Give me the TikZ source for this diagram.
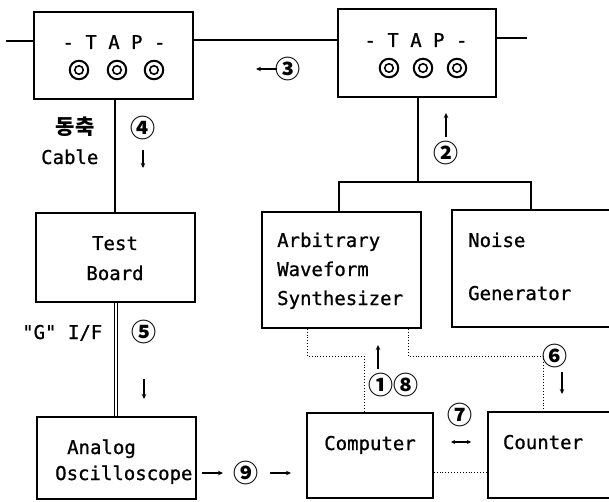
\documentclass[tikz,border=0pt]{standalone}
\usepackage{fontspec}
\newfontfamily\monof{DejaVu Sans Mono}[FakeBold=0.9]
\newfontfamily\krfont{Noto Sans CJK KR}
\usetikzlibrary{fit,arrows.meta}
\begin{document}
\begin{tikzpicture}[x=1pt,y=-1pt,
 box/.style={draw, line width=1.5pt, inner sep=0pt},
 wire/.style={line width=2pt},
 dots/.style={line width=0.9pt, dotted},
 txt/.style={font=\monof\fontsize{19}{22}\selectfont, inner sep=0pt, anchor=base},
 txtl/.style={txt, anchor=base west},
 num/.style={font=\krfont\bfseries\fontsize{25}{26}\selectfont, inner sep=0pt},
 sarrow/.style={line width=1.3pt, -{Stealth[length=5pt,width=4.5pt]}},
 jack/.style={circle, draw, line width=2pt, minimum size=18.5pt, inner sep=0pt},
 jackin/.style={circle, draw, line width=1.6pt, minimum size=8.5pt, inner sep=0pt}
]
\useasboundingbox (0,0) rectangle (609,502);
\clip (0,0) rectangle (609,502);

% boxes
\node[box, fit={(34,12)(193,99)}] (tap1) {};
\node[box, fit={(338,9)(496,97)}] (tap2) {};
\node[box, fit={(36,213)(195,302)}] (test) {};
\node[box, fit={(262,212)(421,328)}] (aws) {};
\node[box, fit={(452,210)(620,327)}] (noise) {};
\node[box, fit={(37,417)(196,499)}] (osc) {};
\node[box, fit={(307,413)(433,498)}] (comp) {};
\node[box, fit={(488,412)(620,498)}] (count) {};

% TAP texts and jacks
\node[txt] (tapa) at (114,49) {- T A P -};
\node[txt] (tapb) at (416,47) {- T A P -};
\foreach \x/\n in {79/a1,117/a2,154/a3}{
  \node[jack] (j\n) at (\x,70) {};
  \node[jackin] (k\n) at (j\n) {};
}
\foreach \x/\n in {389/b1,423/b2,457/b3}{
  \node[jack] (j\n) at (\x,68) {};
  \node[jackin] (k\n) at (j\n) {};
}

% box texts
\node[txt] (l1) at (115,250) {Test};
\node[txt] (l2) at (115,280) {Board};
\node[txtl] (l3) at (277,247) {Arbitrary};
\node[txtl] (l4) at (277,276) {Waveform};
\node[txtl] (l5) at (277,305) {Synthesizer};
\node[txtl] (l6) at (468,247) {Noise};
\node[txtl] (l7) at (468,300) {Generator};
\node[txtl] (l8) at (67,454) {Analog};
\node[txtl] (l9) at (55,480) {Oscilloscope};
\node[txt] (l10) at (370,450) {Computer};
\node[txt] (l11) at (543,449) {Counter};

% side labels
\node[font=\krfont\bfseries\fontsize{21}{22}\selectfont, inner sep=0pt] (kr) at (75,127) {동축};
\node[txtl] (cab) at (41,164) {Cable};
\node[txtl] (gif) at (22,339) {"G" I/F};

% wires
\coordinate (busL) at (6,41);
\coordinate (busM) at (0,40);
\coordinate (busR) at (527,38);
\draw[wire] (busL) -- (busL -| tap1.west);
\draw[wire] (tap1.east |- busM) -- (tap2.west |- busM);
\draw[wire] (tap2.east |- busR) -- (busR);
\coordinate (c1) at (115,0);
\draw[wire] (tap1.south -| c1) -- (test.north -| c1);
\coordinate (sp) at (418,182);
\coordinate (spL) at (339,182);
\coordinate (spR) at (531,182);
\draw[wire] (tap2.south -| sp) -- (sp);
\draw[wire] (aws.north -| spL) |- (spR) -- (noise.north -| spR);
\coordinate (c2) at (116,0);
\draw[double, double distance=1.6pt, line width=0.9pt] (test.south -| c2) -- (osc.north -| c2);

% dotted
\coordinate (d1) at (307,356);
\coordinate (d2) at (364,356);
\coordinate (d3) at (408,356);
\coordinate (d4) at (543,356);
\coordinate (d5) at (0,472);
\draw[dots] (aws.south -| d1) -- (d1) -- (d2) -- (comp.north -| d2);
\draw[dots] (aws.south -| d3) -- (d3) -- (d4) -- (count.north -| d4);
\draw[dots] (comp.east |- d5) -- (count.west |- d5);

% numbers
\node[num] (n3) at (288,69) {③};
\node[num] (n4) at (143,128) {④};
\node[num] (n2) at (446,153) {②};
\node[num] (n5) at (144,332) {⑤};
\node[num] (n6) at (555,356) {⑥};
\node[num] (n7) at (460,415) {⑦};
\node[num] (n18) at (393,385) {①⑧};
\node[num] (n9) at (246,473) {⑨};

% small arrows
\coordinate (a3s) at (277,69); \coordinate (a3e) at (256,69);
\draw[sarrow] (a3s) -- (a3e);
\coordinate (a4s) at (143,150); \coordinate (a4e) at (143,168);
\draw[sarrow] (a4s) -- (a4e);
\coordinate (a2s) at (446,137); \coordinate (a2e) at (446,113);
\draw[sarrow] (a2s) -- (a2e);
\coordinate (a5s) at (144,379); \coordinate (a5e) at (144,399);
\draw[sarrow] (a5s) -- (a5e);
\coordinate (a1s) at (378,369); \coordinate (a1e) at (378,345);
\draw[sarrow] (a1s) -- (a1e);
\coordinate (a6s) at (562,372); \coordinate (a6e) at (562,394);
\draw[sarrow] (a6s) -- (a6e);
\coordinate (a7s) at (451,442); \coordinate (a7e) at (471,442);
\draw[line width=1.3pt, {Stealth[length=4pt,width=4pt]}-{Stealth[length=4pt,width=4pt]}] (a7s) -- (a7e);
\coordinate (a9s) at (202,473); \coordinate (a9e) at (223,473);
\draw[sarrow] (a9s) -- (a9e);
\coordinate (b9s) at (270,473); \coordinate (b9e) at (291,473);
\draw[sarrow] (b9s) -- (b9e);
\end{tikzpicture}
\end{document}
